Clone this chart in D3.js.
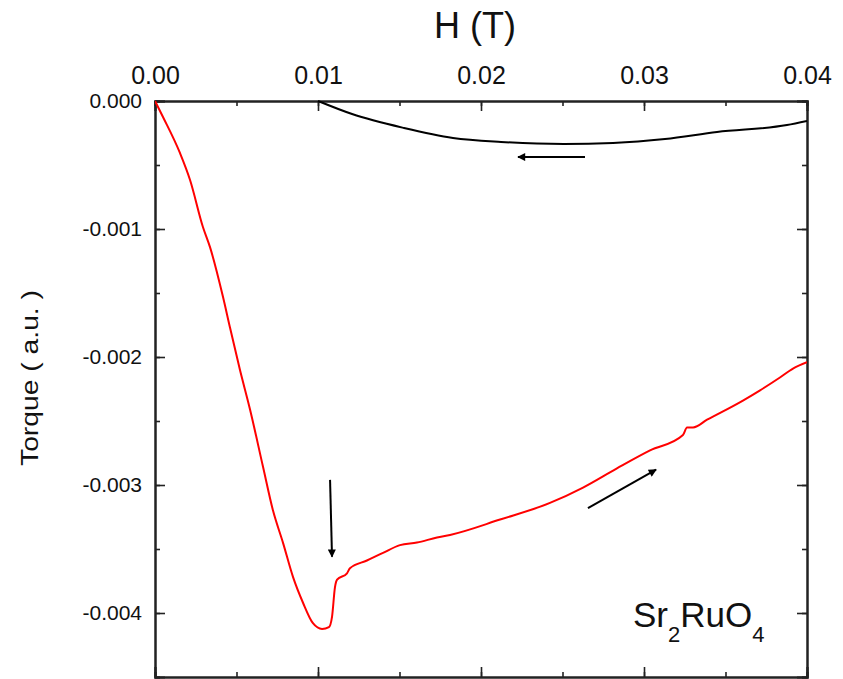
<!DOCTYPE html>
<html>
<head>
<meta charset="utf-8">
<script src="https://cdn.jsdelivr.net/npm/d3@7"></script>
<style>
  html, body { margin: 0; padding: 0; background: #fff; }
  svg { display: block; font-family: "Liberation Sans", Arial, sans-serif; }
</style>
</head>
<body>
<svg id="chart" width="843" height="679"></svg>
<script>
// ---- data (H in tesla, torque in a.u.) ----
const upH = [0, 0.00049, 0.00153, 0.00215, 0.00294, 0.00337, 0.00417, 0.0046, 0.00521, 0.00583, 0.00663, 0.00724, 0.00785, 0.00847, 0.00908, 0.00969, 0.01025, 0.01067, 0.01086, 0.01104, 0.01117, 0.01178, 0.01196, 0.013, 0.01399, 0.01503, 0.01607, 0.0173, 0.0181, 0.02117, 0.02423, 0.02626, 0.02834, 0.03037, 0.03239, 0.03264, 0.03301, 0.03387, 0.03607, 0.03712, 0.03834, 0.03914, 0.04];
const upTorque = [0, -0.000125, -0.000406, -0.000617, -0.000984, -0.00114, -0.00153, -0.00177, -0.0021, -0.00241, -0.00286, -0.0032, -0.00345, -0.00372, -0.00392, -0.00408, -0.004125, -0.00411, -0.00403, -0.0038, -0.00374, -0.00369, -0.00365, -0.00359, -0.00353, -0.00347, -0.00345, -0.00341, -0.00339, -0.00327, -0.00314, -0.00302, -0.00287, -0.00273, -0.00261, -0.00255, -0.00255, -0.00249, -0.00234, -0.00226, -0.00216, -0.00209, -0.00204];
const downH = [0.01, 0.01209, 0.01528, 0.01828, 0.02123, 0.02509, 0.0281, 0.03129, 0.03448, 0.03877, 0.04];
const downTorque = [0, -0.000102, -0.000211, -0.000289, -0.00032, -0.000336, -0.000328, -0.000297, -0.000242, -0.000188, -0.000156];
const xTicks = [0, 0.01, 0.02, 0.03, 0.04];
const yTicks = [0, -0.001, -0.002, -0.003, -0.004];
// arrows: [x1, y1, x2, y2] in data units
const arrows = [
  [0.02638, -0.000438, 0.02227, -0.000438],
  [0.01074, -0.00296, 0.01086, -0.00356],
  [0.02656, -0.00318, 0.03074, -0.00288]
];

// ---- layout ----
const svg = d3.select("#chart");
const mL = 155, mR = 807, mT = 101, mB = 677;
const x = d3.scaleLinear().domain([0, 0.04]).range([mL, mR]);
const y = d3.scaleLinear().domain([-0.0045, 0]).range([mB, mT]);

const minorX = d3.range(0, 0.0401, 0.005);
const minorY = d3.range(0, -0.00451, -0.0005);
const fmtX = d3.format(".2f");
const fmtY = v => d3.format(".3f")(v).replace("\u2212", "-");

function styleAxis(g) {
  g.selectAll(".domain").attr("stroke", "#222").attr("stroke-width", 2);
  g.selectAll(".tick line").attr("stroke", "#222").attr("stroke-width", 1.6);
}

// minor ticks
svg.append("g").attr("transform", `translate(0,${mT})`)
  .call(d3.axisTop(x).tickValues(minorX).tickSize(-5).tickFormat(""))
  .call(styleAxis);
svg.append("g").attr("transform", `translate(0,${mB})`)
  .call(d3.axisBottom(x).tickValues(minorX).tickSize(-5).tickFormat(""))
  .call(styleAxis);
svg.append("g").attr("transform", `translate(${mL},0)`)
  .call(d3.axisLeft(y).tickValues(minorY).tickSize(-5).tickFormat(""))
  .call(styleAxis);
svg.append("g").attr("transform", `translate(${mR},0)`)
  .call(d3.axisRight(y).tickValues(minorY).tickSize(-5).tickFormat(""))
  .call(styleAxis);

// major ticks
const gTop = svg.append("g").attr("transform", `translate(0,${mT})`)
  .call(d3.axisTop(x).tickValues(xTicks).tickSize(-10).tickPadding(17).tickFormat(fmtX))
  .call(styleAxis);
gTop.selectAll("text").attr("font-size", 25).attr("fill", "#111").attr("font-family", "Liberation Sans, Arial, sans-serif");
svg.append("g").attr("transform", `translate(0,${mB})`)
  .call(d3.axisBottom(x).tickValues(xTicks).tickSize(-10).tickFormat(""))
  .call(styleAxis);
const gLeft = svg.append("g").attr("transform", `translate(${mL},0)`)
  .call(d3.axisLeft(y).tickValues(yTicks).tickSize(-10).tickPadding(13).tickFormat(fmtY))
  .call(styleAxis);
gLeft.selectAll("text").attr("font-size", 21).attr("fill", "#111").attr("font-family", "Liberation Sans, Arial, sans-serif");
svg.append("g").attr("transform", `translate(${mR},0)`)
  .call(d3.axisRight(y).tickValues(yTicks).tickSize(-10).tickFormat(""))
  .call(styleAxis);

// axis titles
svg.append("text").attr("x", 475).attr("y", 38).attr("text-anchor", "middle")
  .attr("font-size", 36).attr("fill", "#111").text("H (T)");
svg.append("text").attr("transform", `translate(38,378) rotate(-90)`).attr("text-anchor", "middle")
  .attr("font-size", 24).attr("fill", "#111")
  .attr("textLength", 176).attr("lengthAdjust", "spacingAndGlyphs")
  .text("Torque ( a.u. )");

// curves
const line = d3.line().x(d => x(d[0])).y(d => y(d[1])).curve(d3.curveMonotoneX);
svg.append("clipPath").attr("id", "clip").append("rect")
  .attr("x", mL).attr("y", mT - 2).attr("width", mR - mL).attr("height", mB - mT + 2);
svg.append("path").datum(upH.map((h, i) => [h, upTorque[i]]))
  .attr("d", line).attr("fill", "none").attr("stroke", "#ff0000").attr("stroke-width", 2)
  .attr("stroke-linejoin", "round").attr("clip-path", "url(#clip)");
svg.append("path").datum(downH.map((h, i) => [h, downTorque[i]]))
  .attr("d", line).attr("fill", "none").attr("stroke", "#000").attr("stroke-width", 2)
  .attr("stroke-linejoin", "round").attr("clip-path", "url(#clip)");

// arrows
svg.append("defs").append("marker").attr("id", "ah")
  .attr("viewBox", "0 0 10 10").attr("refX", 9).attr("refY", 5)
  .attr("markerWidth", 12).attr("markerHeight", 8).attr("markerUnits", "userSpaceOnUse")
  .attr("orient", "auto")
  .append("path").attr("d", "M0,0 L10,5 L0,10 Z").attr("fill", "#000");
svg.selectAll(".arrow").data(arrows).enter().append("line")
  .attr("class", "arrow")
  .attr("x1", d => x(d[0])).attr("y1", d => y(d[1]))
  .attr("x2", d => x(d[2])).attr("y2", d => y(d[3]))
  .attr("stroke", "#000").attr("stroke-width", 2).attr("marker-end", "url(#ah)");

// compound label
const lab = svg.append("text").attr("x", 633).attr("y", 627).attr("font-size", 35).attr("fill", "#111");
lab.append("tspan").text("Sr");
lab.append("tspan").attr("font-size", 22).attr("dy", 15).text("2");
lab.append("tspan").attr("dy", -15).text("RuO");
lab.append("tspan").attr("font-size", 22).attr("dy", 15).text("4");
</script>
</body>
</html>
